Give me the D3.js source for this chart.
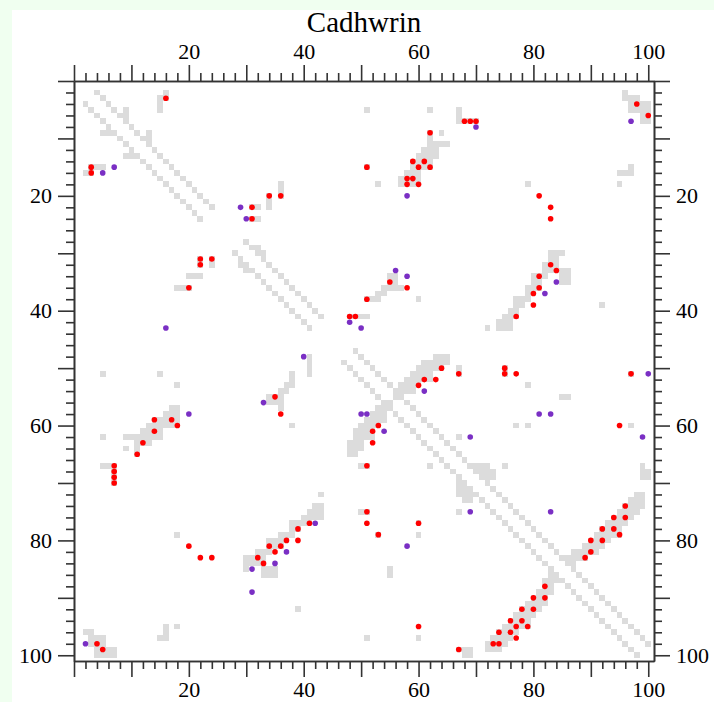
<!DOCTYPE html>
<html>
<head>
<meta charset="utf-8">
<script src="https://cdn.jsdelivr.net/npm/d3@7"></script>
<style>
  body { margin: 0; background: #f0fff0; }
  svg { display: block; }
  text { font-family: "Liberation Serif", "Times New Roman", serif; fill: #000; }
</style>
</head>
<body>
<svg id="chart" width="714" height="702"></svg>
<script>
const title = 'Cadhwrin'
const labelTicks = [20, 40, 60, 80, 100]

// grey contact cells, upper triangle only (x > y); the map is symmetric
const contacts = [
  [4, 2], [5, 3], [6, 4], [7, 5], [8, 6], [9, 7], [10, 8], [11, 9], [12, 10], [13, 11], [14, 12],
  [15, 13], [16, 14], [17, 15], [18, 16], [19, 17], [20, 18], [21, 19], [22, 20], [23, 21], [24, 22],
  [9, 5], [9, 6], [13, 9], [13, 10],
  [16, 2], [15, 3], [16, 3], [15, 4], [15, 5],
  [36, 18], [36, 19], [36, 20], [34, 20], [34, 21], [34, 22], [31, 22], [32, 22], [31, 24], [32, 24],
  [30, 28], [31, 29], [32, 29], [32, 30], [33, 30], [33, 31], [34, 32], [35, 33], [36, 34], [37, 35],
  [38, 36], [39, 37], [40, 38], [41, 39], [42, 40], [43, 41],
  [51, 5], [62, 5], [67, 5], [67, 6], [67, 7], [68, 7], [69, 7], [70, 7], [64, 9], [51, 15], [53, 18],
  [79, 18], [97, 15], [95, 16], [96, 16], [97, 16], [95, 18], [60, 38], [51, 41], [72, 43], [92, 39],
  [79, 53], [85, 55], [86, 55], [77, 60], [79, 60], [97, 60], [67, 62], [67, 65], [69, 67], [75, 67],
  [99, 67], [99, 68], [99, 69], [100, 68], [100, 69], [67, 50], [67, 51], [75, 50], [75, 51], [97, 51],
  [96, 2], [96, 3], [97, 3], [98, 3], [97, 4], [98, 4], [99, 4], [100, 4], [97, 5], [98, 5], [99, 5],
  [100, 5], [99, 6], [100, 6], [99, 7], [100, 7],
  [62, 9], [62, 10], [62, 11], [63, 11], [64, 11], [65, 11], [61, 12], [62, 12], [63, 12],
  [60, 13], [61, 13], [62, 13], [63, 13], [59, 14], [60, 14], [61, 14], [62, 14],
  [59, 15], [60, 15], [61, 15], [62, 15], [58, 16], [59, 16], [60, 16],
  [57, 17], [58, 17], [59, 17], [60, 17], [57, 18], [58, 18], [59, 18], [60, 18],
  [55, 34], [56, 34], [55, 35], [56, 35], [54, 36], [55, 36], [56, 36], [57, 36], [53, 37], [54, 37],
  [51, 38], [52, 38], [53, 38], [48, 41], [49, 41], [50, 41],
  [83, 30], [84, 30], [85, 30], [83, 31], [84, 31], [82, 32], [83, 32], [84, 32],
  [82, 33], [83, 33], [84, 33], [85, 33], [86, 33], [80, 34], [81, 34], [82, 34], [85, 34], [86, 34],
  [80, 35], [81, 35], [85, 35], [86, 35], [79, 36], [80, 36], [81, 36], [79, 37], [80, 37],
  [77, 38], [78, 38], [79, 38], [77, 39], [78, 39], [76, 40], [77, 40], [75, 41], [76, 41], [77, 41],
  [74, 42], [75, 42], [76, 42], [74, 43], [75, 43], [76, 43],
  [49, 47], [50, 48], [51, 49], [52, 50], [53, 51], [54, 52], [55, 53], [56, 54], [57, 55], [58, 56],
  [59, 57], [60, 58], [61, 59], [62, 60], [63, 61], [64, 62], [65, 63], [66, 64], [67, 65], [68, 66],
  [69, 67], [70, 68], [71, 69], [72, 70], [73, 71], [74, 72], [75, 73], [76, 74], [77, 75], [78, 76],
  [79, 77], [80, 78], [81, 79], [82, 80], [83, 81], [84, 82], [85, 83], [86, 84], [87, 85], [88, 86],
  [89, 87], [90, 88], [91, 89], [92, 90], [93, 91], [94, 92], [95, 93], [96, 94], [97, 95], [98, 96],
  [99, 97], [100, 98],
  [63, 48], [64, 48], [65, 48], [61, 49], [62, 49], [63, 49], [64, 49], [65, 49],
  [60, 50], [61, 50], [62, 50], [63, 50], [64, 50], [59, 51], [60, 51], [61, 51], [62, 51],
  [58, 52], [59, 52], [60, 52], [61, 52], [62, 52], [57, 53], [58, 53], [59, 53], [60, 53],
  [56, 54], [57, 54], [58, 54], [59, 54], [56, 55], [57, 55],
  [70, 67], [71, 67], [72, 67], [71, 68], [72, 68], [73, 68], [71, 69], [72, 69], [73, 69],
  [98, 72], [99, 72], [97, 73], [98, 73], [99, 73], [96, 74], [97, 74], [98, 74], [99, 74],
  [95, 75], [96, 75], [97, 75], [98, 75], [94, 76], [95, 76], [96, 76], [97, 76],
  [93, 77], [94, 77], [95, 77], [96, 77], [92, 78], [93, 78], [94, 78], [95, 78],
  [91, 79], [92, 79], [93, 79], [94, 79], [95, 79], [90, 80], [91, 80], [92, 80], [93, 80],
  [89, 81], [90, 81], [91, 81], [92, 81], [87, 82], [88, 82], [89, 82], [90, 82], [91, 82],
  [86, 83], [87, 83], [88, 83], [89, 83], [86, 84], [87, 84]
]

const redPoints = [
  [16, 3], [3, 15], [3, 16], [34, 20], [36, 20], [31, 22], [31, 24], [22, 31], [22, 32], [24, 31],
  [20, 36], [68, 7], [69, 7], [70, 7], [62, 9], [51, 15], [59, 14], [61, 14], [60, 15], [62, 15],
  [58, 17], [59, 17], [58, 18], [60, 18], [55, 35], [58, 36], [51, 38], [48, 41], [49, 41], [64, 50],
  [67, 51], [98, 4], [100, 6], [81, 20], [83, 22], [83, 24], [83, 32], [84, 33], [81, 34], [81, 36],
  [80, 37], [80, 39], [77, 41], [75, 50], [75, 51], [77, 51], [97, 51], [14, 59], [17, 59], [18, 60],
  [14, 61], [12, 63], [11, 65], [7, 67], [7, 68], [7, 69], [7, 70], [20, 81], [22, 83], [24, 83],
  [34, 81], [32, 83], [33, 84], [4, 98], [5, 99], [35, 55], [36, 58], [61, 52], [63, 52], [60, 53],
  [53, 60], [52, 61], [52, 63], [51, 67], [51, 75], [51, 77], [60, 77], [53, 79], [41, 77], [39, 78],
  [39, 80], [37, 80], [36, 81], [35, 82], [60, 95], [67, 99], [95, 60], [96, 74], [94, 76], [96, 76],
  [92, 78], [94, 78], [95, 79], [90, 80], [92, 80], [90, 82], [89, 83], [82, 88], [80, 90], [82, 90],
  [78, 92], [80, 92], [76, 94], [78, 94], [77, 95], [79, 95], [74, 96], [76, 96], [77, 97], [73, 98],
  [74, 98]
]

const purplePoints = [
  [5, 16], [7, 15], [29, 22], [30, 24], [16, 43], [70, 8], [58, 20], [56, 33], [58, 34], [48, 42],
  [50, 43], [40, 48], [97, 7], [84, 35], [82, 37], [100, 51], [33, 56], [20, 58], [31, 85], [31, 89],
  [2, 98], [61, 54], [50, 58], [51, 58], [54, 61], [58, 81], [42, 77], [37, 82], [35, 84], [81, 58],
  [83, 58], [69, 62], [99, 62], [69, 75], [83, 75]
]

const svg = d3.select('#chart')

svg.append('rect')
  .attr('x', 12).attr('y', 10)
  .attr('width', 702).attr('height', 692)
  .attr('fill', '#fff')

const x = d3.scaleLinear().domain([0, 101]).range([74, 654])
const y = d3.scaleLinear().domain([0, 101]).range([81, 661])
const cw = x(1) - x(0)
const ch = y(1) - y(0)

// mirror the upper triangle into the lower one
const cells = contacts.concat(contacts.map(d => [d[1], d[0]]))

svg.append('g')
  .selectAll('rect')
  .data(cells)
  .join('rect')
  .attr('x', d => x(d[0] - 0.5))
  .attr('y', d => y(d[1] - 0.5))
  .attr('width', cw)
  .attr('height', ch)
  .attr('fill', '#dcdcdc')
  .attr('shape-rendering', 'crispEdges')

svg.append('g')
  .selectAll('circle')
  .data(redPoints)
  .join('circle')
  .attr('cx', d => x(d[0]))
  .attr('cy', d => y(d[1]))
  .attr('r', 2.8)
  .attr('fill', '#ff0000')

svg.append('g')
  .selectAll('circle')
  .data(purplePoints)
  .join('circle')
  .attr('cx', d => x(d[0]))
  .attr('cy', d => y(d[1]))
  .attr('r', 2.8)
  .attr('fill', '#7a2fc4')

const minor = d3.range(0, 101, 2).filter(d => d % 10 !== 0)
const major = d3.range(0, 101, 10)
const fmt = d => labelTicks.includes(d) ? d : ''

function axes (axis, scale, tr, pad) {
  const gMinor = svg.append('g').attr('transform', tr)
    .call(axis(scale).tickValues(minor).tickSize(8).tickSizeOuter(0).tickFormat(''))
  const gMajor = svg.append('g').attr('transform', tr)
    .call(axis(scale).tickValues(major).tickSize(16).tickSizeOuter(0).tickFormat(fmt).tickPadding(pad))
  for (const g of [gMinor, gMajor]) {
    g.selectAll('path, line').attr('stroke', '#333').attr('stroke-width', 1.6)
    g.selectAll('text').attr('font-size', 22).attr('font-family', '"Liberation Serif", serif')
  }
}

axes(d3.axisTop, x, 'translate(0,81)', 6)
axes(d3.axisBottom, x, 'translate(0,661)', 4)
axes(d3.axisLeft, y, 'translate(74,0)', 6)
axes(d3.axisRight, y, 'translate(654,0)', 6)

svg.append('text')
  .attr('x', 364).attr('y', 32)
  .attr('text-anchor', 'middle')
  .attr('font-size', 29)
  .text(title)
</script>
</body>
</html>
